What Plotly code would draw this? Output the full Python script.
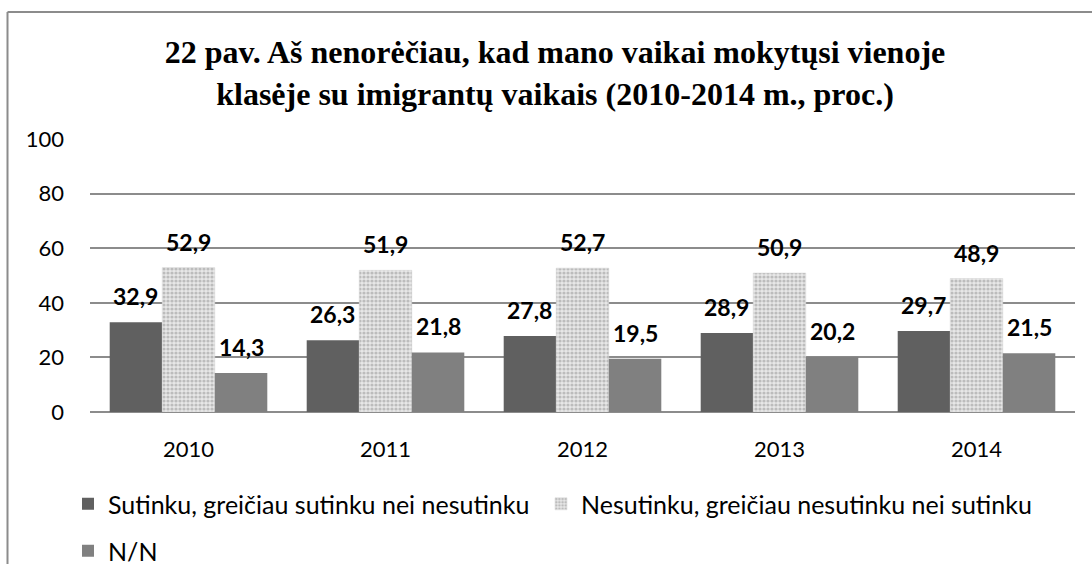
import plotly.graph_objects as go

years = ["2010", "2011", "2012", "2013", "2014"]
series_names = [
    "Sutinku, greičiau sutinku nei nesutinku",
    "Nesutinku, greičiau nesutinku nei sutinku",
    "N/N",
]
agree = [32.9, 26.3, 27.8, 28.9, 29.7]
disagree = [52.9, 51.9, 52.7, 50.9, 48.9]
dont_know = [14.3, 21.8, 19.5, 20.2, 21.5]
y_ticks = [0, 20, 40, 60, 80, 100]
title_text = "22 pav. Aš nenorėčiau, kad mano vaikai mokytųsi vienoje<br>klasėje su imigrantų vaikais (2010-2014 m., proc.)"

W, H = 1092, 581
ML, MR, MT, MB = 90, 17, 139, 169
BARGAP = 0.2
FONT = "Lato, Carlito, 'Open Sans', sans-serif"

fig = go.Figure()
fig.add_trace(go.Bar(x=years, y=agree, name=series_names[0], showlegend=True,
                     marker=dict(color="#606060", line=dict(width=0)),
                     legend="legend"))
fig.add_trace(go.Bar(x=years, y=disagree, name=series_names[1], showlegend=True,
                     marker=dict(color="#e0e0e0", line=dict(width=0.5, color="#d4d4d4"),
                                 pattern=dict(shape=".", fgcolor="#bcbcbc", bgcolor="#e8e8e8",
                                              size=4, solidity=0.5, fillmode="replace")),
                     legend="legend2"))
fig.add_trace(go.Bar(x=years, y=dont_know, name=series_names[2], showlegend=True,
                     marker=dict(color="#808080", line=dict(width=0)),
                     legend="legend3"))

plot_w = W - ML - MR
ph = H - MT - MB
bar_w = plot_w / len(years) * (1 - BARGAP) / 3
for si, vals in enumerate([agree, disagree, dont_know]):
    for ci, v in enumerate(vals):
        fig.add_annotation(x=ci, y=v, text=f"{v:.1f}".replace(".", ","),
                           showarrow=False, xshift=(si - 1) * bar_w, yshift=26,
                           yanchor="middle",
                           font=dict(family=FONT, size=23, color="#000000", weight="bold"))

# border lines (top and left)
bx = (7.5 - ML) / plot_w
by_top = (H - MB - 12) / ph
by_bot = (H - MB - 564) / ph
fig.add_shape(type="line", xref="paper", yref="paper",
              x0=bx, x1=(W + 5 - ML) / plot_w, y0=by_top, y1=by_top,
              line=dict(color="#8c8c8c", width=2))
fig.add_shape(type="line", xref="paper", yref="paper",
              x0=bx, x1=bx, y0=by_top, y1=by_bot,
              line=dict(color="#8c8c8c", width=2))

legend_font = dict(family=FONT, size=25, color="#000000")
fig.update_layout(
    width=W, height=H, showlegend=True,
    margin=dict(l=ML, r=MR, t=MT, b=MB, autoexpand=False),
    paper_bgcolor="white", plot_bgcolor="white",
    barmode="group", bargap=BARGAP, bargroupgap=0,
    title=dict(text=title_text, x=555 / W, xanchor="center", y=1 - 63 / H, yanchor="middle",
               font=dict(family="'Liberation Serif', 'Times New Roman', serif", size=32,
                         color="#000000", weight="bold")),
    xaxis=dict(type="category", range=[-0.5, len(years) - 0.5], autorange=False,
               showgrid=False, showline=False, ticks="", ticklabelstandoff=22,
               tickfont=dict(family=FONT, size=22, color="#000000")),
    yaxis=dict(range=[0, 100], autorange=False, tickvals=y_ticks, showgrid=True,
               gridcolor="#8c8c8c", gridwidth=2, zeroline=True, zerolinecolor="#8c8c8c",
               zerolinewidth=2, ticks="", ticklabelstandoff=25, showline=False,
               tickfont=dict(family=FONT, size=22, color="#000000")),
    legend=dict(visible=True, orientation="h", x=(68 - ML) / plot_w, xanchor="left",
                y=-(504 - (H - MB)) / ph, yanchor="middle",
                font=legend_font, bgcolor="rgba(0,0,0,0)"),
    legend2=dict(visible=True, orientation="h", x=(541 - ML) / plot_w, xanchor="left",
                 y=-(504 - (H - MB)) / ph, yanchor="middle",
                 font=legend_font, bgcolor="rgba(0,0,0,0)"),
    legend3=dict(visible=True, orientation="h", x=(68 - ML) / plot_w, xanchor="left",
                 y=-(551 - (H - MB)) / ph, yanchor="middle",
                 font=legend_font, bgcolor="rgba(0,0,0,0)"),
)

fig.write_html("out.html", config={"displayModeBar": False},
               post_script="document.body.style.margin='0';document.body.style.overflow='hidden';")
